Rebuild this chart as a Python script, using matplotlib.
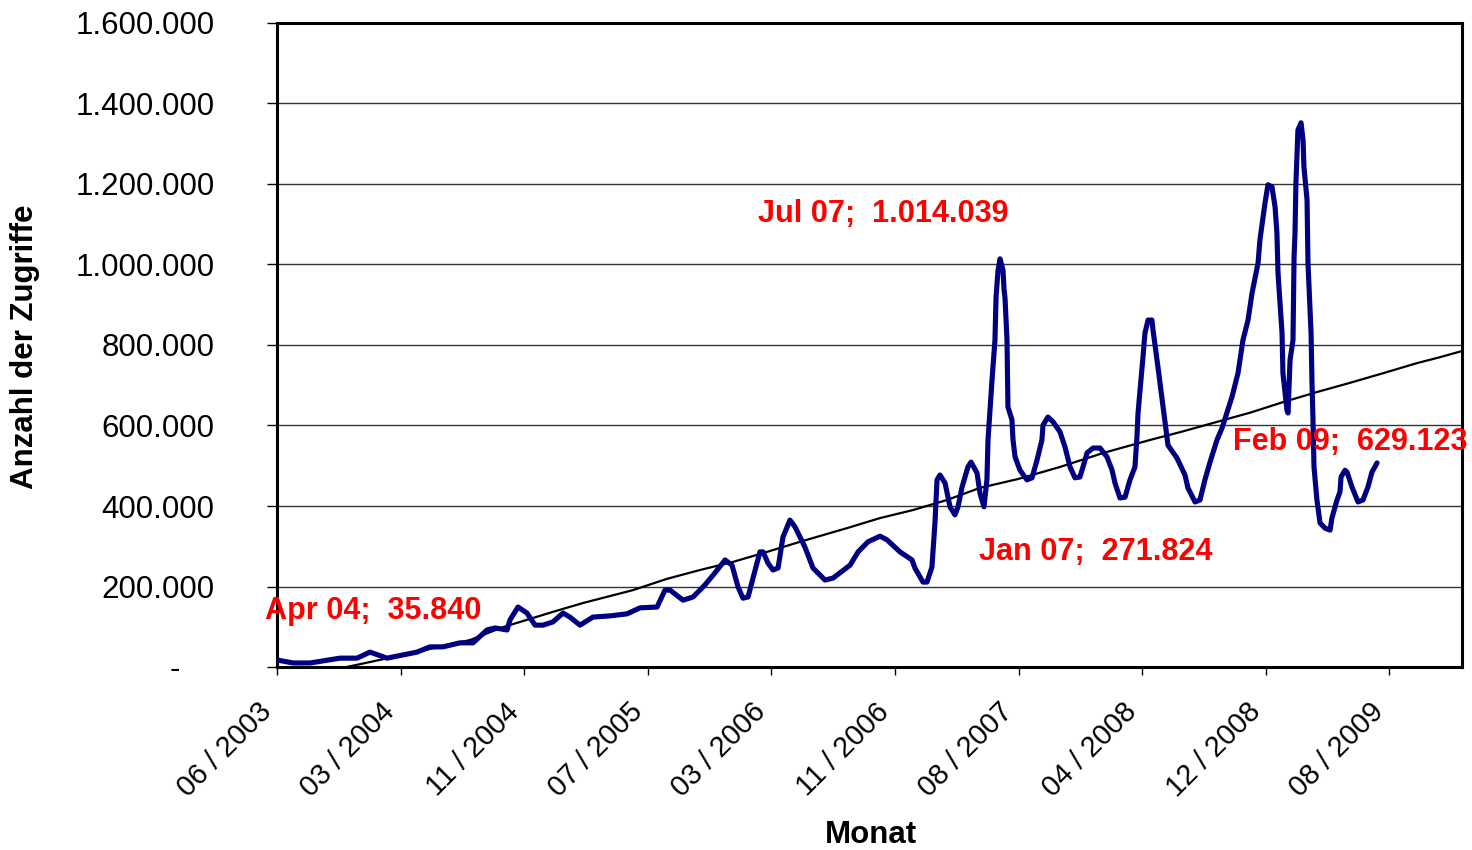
import matplotlib
matplotlib.use("Agg")
import matplotlib.pyplot as plt
from matplotlib.ticker import FuncFormatter

plt.rcParams['font.family'] = ['Liberation Sans', 'DejaVu Sans']

# x positions in months (tick every 8 units), values = hits
hits_x = [0.06, 1.04, 2.14, 4.08, 5.18, 6.02, 7.12, 8.16, 9.06, 9.90, 10.74, 11.84, 12.69,
          13.59, 14.11, 14.89, 15.08, 15.60, 16.18, 16.70, 17.22, 17.86, 18.51, 18.96, 19.61,
          20.45, 21.55, 22.65, 23.50, 24.60, 25.11, 25.44, 26.28, 26.93, 27.70, 28.35, 29.00,
          29.45, 29.84, 30.16, 30.49, 30.81, 31.26, 31.46, 31.78, 32.10, 32.43, 32.75, 33.20,
          33.53, 34.17, 34.69, 35.47, 35.99, 37.09, 37.61, 38.25, 39.03, 39.48, 40.32, 41.10,
          41.29, 41.81, 42.07, 42.39, 42.59, 42.72, 42.91, 43.24, 43.56, 43.88, 44.08, 44.34,
          44.72, 44.92, 45.31, 45.50, 45.76, 45.95, 46.02, 46.28, 46.47, 46.54, 46.67, 46.80,
          46.99, 47.06, 47.12, 47.25, 47.31, 47.57, 47.64, 47.77, 48.09, 48.54, 48.87, 49.19,
          49.51, 49.58, 49.90, 50.23, 50.68, 51.00, 51.33, 51.65, 51.97, 52.30, 52.43, 52.82,
          53.27, 53.72, 54.05, 54.24, 54.56, 54.89, 55.21, 55.53, 55.66, 55.73, 56.05, 56.18,
          56.38, 56.63, 56.70, 57.02, 57.35, 57.67, 58.25, 58.77, 58.96, 59.42, 59.74, 60.06,
          60.39, 60.84, 61.17, 61.81, 62.20, 62.52, 62.85, 63.11, 63.50, 63.62, 63.95, 64.14,
          64.40, 64.60, 64.72, 64.79, 65.05, 65.11, 65.37, 65.44, 65.57, 65.76, 65.83, 65.89,
          65.95, 66.08, 66.28, 66.41, 66.47, 66.67, 66.73, 66.93, 66.99, 67.05, 67.12, 67.31,
          67.51, 67.83, 68.16, 68.28, 68.61, 68.80, 68.87, 69.13, 69.26, 69.58, 69.97, 70.29,
          70.61, 70.87, 71.20]
hits_k = [17, 10, 10, 22, 22, 37, 22, 30, 37, 50, 50, 60, 60,
          92, 97, 92, 117, 149, 134, 104, 104, 112, 134, 124, 104,
          124, 127, 132, 147, 149, 191, 191, 166, 174, 204, 234, 266,
          253, 199, 171, 174, 221, 286, 286, 258, 241, 246, 323, 365,
          348, 298, 246, 216, 221, 253, 286, 311, 325, 316, 286, 266,
          246, 211, 211, 248, 360, 465, 477, 457, 398, 378, 398, 447,
          497, 509, 482, 432, 398, 465, 564, 713, 812, 919, 986, 1014,
          986, 937, 917, 812, 646, 614, 564, 522, 489, 465, 470, 514,
          564, 601, 621, 609, 584, 547, 497, 470, 472, 514, 532, 544,
          544, 522, 489, 457, 420, 422, 465, 497, 571, 631, 770, 830,
          862, 862, 837, 745, 646, 551, 519, 477, 445, 410, 415, 465,
          509, 564, 594, 671, 730, 812, 862, 929, 1004, 1061, 1153, 1198,
          1193, 1143, 1078, 979, 830, 730, 638, 631, 763, 812, 1019, 1078,
          1202, 1334, 1352, 1309, 1242, 1160, 1004, 830, 706, 621, 497, 415,
          358, 345, 340, 370, 415, 435, 472, 489, 484, 447, 410, 415,
          447, 484, 507]

trend_x = [3.9, 8.16, 12.49, 14.63, 17.86, 19.81, 23.04, 25.24, 27.38, 29.51, 31.72, 33.85,
           36.89, 39.03, 41.17, 43.37, 45.50, 47.96, 50.68, 53.5, 56.50, 58.6, 60.84, 63.0,
           65.11, 67.3, 69.45, 71.6, 73.79, 75.3, 76.70]
trend_k = [-5, 30, 67, 99, 137, 159, 191, 219, 241, 261, 286, 311,
           345, 370, 390, 415, 445, 467, 497, 532, 564, 585, 609, 632,
           658, 683, 706, 730, 755, 770, 785]

tick_pos = [0, 8, 16, 24, 32, 40, 48, 56, 64, 72]
tick_labels = ['06 / 2003', '03 / 2004', '11 / 2004', '07 / 2005', '03 / 2006',
               '11 / 2006', '08 / 2007', '04 / 2008', '12 / 2008', '08 / 2009']

annotations = [
    ('Apr 04;  35.840', -0.78, 139000),
    ('Jul 07;  1.014.039', 31.13, 1125000),
    ('Jan 07;  271.824', 45.44, 286000),
    ('Feb 09;  629.123', 61.88, 559000),
]

FS = 22.5

fig = plt.figure(figsize=(14.72, 8.5), dpi=100)
ax = fig.add_axes([277/1472, 1-667/850, (1462-277)/1472, (667-23)/850])

ax.plot(trend_x, [v*1000 for v in trend_k], color='black', lw=1.6, zorder=3)
ax.plot(hits_x, [v*1000 for v in hits_k], color='#000080', lw=3.7, zorder=4,
        solid_joinstyle='round', solid_capstyle='round')

ax.set_xlim(0, (1462-277)/15.45)
ax.set_ylim(0, 1600000)
ax.set_yticks(range(0, 1600001, 200000))

def yfmt(v, pos):
    if v == 0:
        return '-    '
    return f"{int(v):,}".replace(',', '.')
ax.yaxis.set_major_formatter(FuncFormatter(yfmt))
ax.set_xticks(tick_pos)
ax.set_xticklabels(tick_labels, rotation=45, ha='right', va='top')

ax.grid(axis='y', color='#333333', lw=1.0, zorder=1)
ax.set_axisbelow(True)
for s in ax.spines.values():
    s.set_linewidth(2.2)
    s.set_color('black')
ax.tick_params(axis='y', direction='out', length=7, width=1, labelsize=FS, pad=38)
ax.tick_params(axis='x', direction='out', length=6, width=1, labelsize=20.7, pad=16)

for txt, x, y in annotations:
    ax.text(x, y, txt, color='#ff0000', fontsize=22.1, fontweight='bold',
            ha='left', va='center', zorder=5, clip_on=False)

fig.text(25/1472, 1-347/850, 'Anzahl der Zugriffe', rotation=90, fontsize=FS,
         fontweight='bold', ha='center', va='center')
fig.text(871/1472, 1-835/850, 'Monat', fontsize=FS, fontweight='bold',
         ha='center', va='center')

fig.savefig('out.png', dpi=100, facecolor='white')
